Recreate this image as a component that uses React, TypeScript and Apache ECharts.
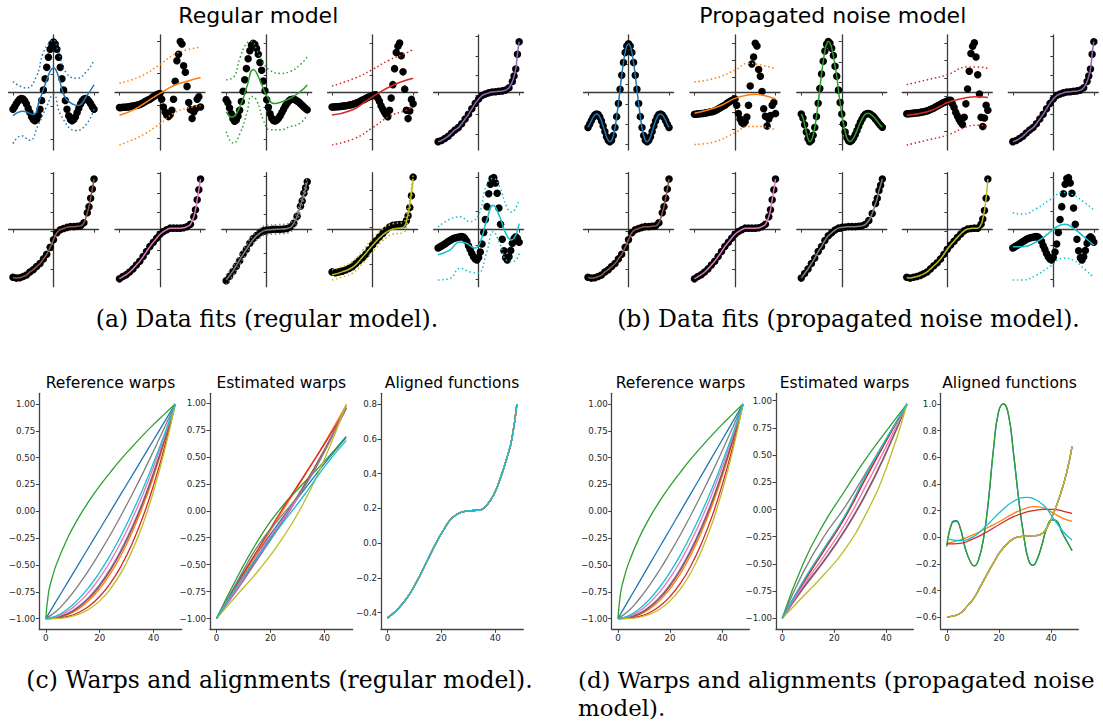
import { useEffect, useRef } from 'react';
import * as echarts from 'echarts';

const TAB10 = ['#1f77b4', '#ff7f0e', '#2ca02c', '#d62728', '#9467bd', '#8c564b', '#e377c2', '#7f7f7f', '#bcbd22', '#17becf'];

// ---------- small multiples: observed data, x in [-1, 1] ----------
const xFine = [-1, -0.958, -0.917, -0.875, -0.833, -0.792, -0.75, -0.708, -0.667, -0.625, -0.583, -0.542, -0.5, -0.458, -0.417, -0.375, -0.333, -0.292, -0.25, -0.208, -0.167, -0.125, -0.083, -0.042, 0, 0.042, 0.083, 0.125, 0.167, 0.208, 0.25, 0.292, 0.333, 0.375, 0.417, 0.458, 0.5, 0.542, 0.583, 0.625, 0.667, 0.708, 0.75, 0.792, 0.833, 0.875, 0.917, 0.958, 1];
const dots1 = [-0.04, 0.0, 0.045, 0.085, 0.115, 0.128, 0.12, 0.09, 0.041, -0.023, -0.091, -0.154, -0.199, -0.217, -0.199, -0.141, -0.041, 0.095, 0.257, 0.434, 0.609, 0.767, 0.891, 0.972, 1.0, 0.972, 0.891, 0.767, 0.609, 0.434, 0.257, 0.095, -0.041, -0.141, -0.199, -0.217, -0.199, -0.154, -0.091, -0.023, 0.041, 0.09, 0.12, 0.128, 0.115, 0.085, 0.045, 0.0, -0.04];
const dots2 = [-0.03, -0.03, -0.025, -0.025, -0.02, -0.02, -0.015, -0.01, -0.005, 0.0, 0.005, 0.01, 0.02, 0.03, 0.045, 0.06, 0.075, 0.09, 0.1, 0.12, 0.14, 0.155, 0.17, 0.18, 0.19, 0.1, -0.02, -0.1, -0.15, -0.17, -0.14, -0.07, 0.1, 0.38, 0.7, 0.8, 1.0, 0.96, 0.62, 0.52, 0.3, 0.05, -0.06, -0.2, -0.1, -0.05, 0.1, 0.14, -0.02];
const dots3 = [0.12, 0.07, -0.01, -0.1, -0.18, -0.217, -0.198, -0.14, -0.045, 0.09, 0.25, 0.43, 0.605, 0.76, 0.885, 0.968, 1.0, 0.98, 0.92, 0.83, 0.7, 0.58, 0.41, 0.26, 0.12, 0.0, -0.1, -0.17, -0.205, -0.215, -0.2, -0.17, -0.13, -0.08, -0.03, 0.02, 0.06, 0.095, 0.117, 0.125, 0.125, 0.116, 0.1, 0.082, 0.057, 0.032, 0.005, -0.02, -0.04];
const dots4 = [0.0, 0.0, 0.005, 0.005, 0.01, 0.01, 0.015, 0.015, 0.02, 0.025, 0.03, 0.035, 0.04, 0.05, 0.06, 0.07, 0.08, 0.095, 0.11, 0.12, 0.135, 0.15, 0.16, 0.17, 0.18, 0.19, 0.19, 0.14, 0.09, 0.02, -0.03, -0.08, -0.12, -0.15, -0.05, 0.14, 0.35, 0.6, 0.85, 0.95, 1.0, 0.8, 0.55, 0.28, -0.05, -0.18, -0.06, 0.12, 0.05];
const dots10 = [-0.04, -0.026, -0.012, 0.005, 0.02, 0.037, 0.055, 0.07, 0.084, 0.1, 0.108, 0.115, 0.12, 0.126, 0.128, 0.121, 0.097, 0.06, -0.005, -0.06, -0.12, -0.17, -0.2, -0.216, -0.18, -0.1, 0.02, 0.19, 0.38, 0.57, 0.76, 0.9, 0.985, 0.997, 0.92, 0.767, 0.55, 0.31, 0.09, -0.08, -0.185, -0.215, -0.17, -0.075, 0.03, 0.1, 0.127, 0.1, 0.045];

const xCubic = [-1, -0.917, -0.833, -0.75, -0.667, -0.583, -0.5, -0.417, -0.333, -0.25, -0.167, -0.083, 0, 0.083, 0.167, 0.25, 0.333, 0.417, 0.5, 0.583, 0.667, 0.75, 0.833, 0.875, 0.917, 0.958, 1];
const dots5 = [-0.6, -0.585, -0.56, -0.53, -0.49, -0.45, -0.42, -0.37, -0.31, -0.25, -0.18, -0.11, -0.055, -0.01, 0.01, 0.025, 0.035, 0.04, 0.045, 0.05, 0.06, 0.09, 0.17, 0.24, 0.33, 0.52, 0.68];
const dots6 = [-0.6, -0.61, -0.605, -0.59, -0.57, -0.53, -0.5, -0.46, -0.42, -0.36, -0.3, -0.21, -0.11, -0.02, 0.02, 0.035, 0.05, 0.06, 0.06, 0.065, 0.07, 0.11, 0.24, 0.32, 0.43, 0.55, 0.68];
const dots7 = [-0.62, -0.59, -0.565, -0.53, -0.49, -0.44, -0.39, -0.33, -0.265, -0.2, -0.145, -0.09, -0.04, -0.005, 0.02, 0.04, 0.04, 0.04, 0.04, 0.045, 0.06, 0.09, 0.19, 0.28, 0.41, 0.54, 0.68];
const dots8 = [-0.61, -0.55, -0.49, -0.42, -0.35, -0.265, -0.2, -0.12, -0.06, -0.02, 0.015, 0.04, 0.05, 0.055, 0.06, 0.06, 0.06, 0.065, 0.07, 0.09, 0.14, 0.23, 0.36, 0.43, 0.53, 0.6, 0.68];
const dots9 = [-0.6, -0.61, -0.6, -0.59, -0.575, -0.555, -0.53, -0.49, -0.45, -0.41, -0.36, -0.3, -0.235, -0.18, -0.13, -0.08, -0.035, 0.005, 0.03, 0.035, 0.04, 0.04, 0.09, 0.16, 0.27, 0.43, 0.68];

// ---------- regular model fits (panel a) ----------
const a1FitX = [-1, -0.75, -0.51, -0.34, -0.22, -0.09, 0, 0.11, 0.24, 0.36, 0.61, 0.81, 1];
const a1FitY = [-0.14, -0.07, -0.12, 0.11, 0.32, 0.54, 0.6, 0.49, 0.21, 0.09, 0.02, 0.16, 0.34];
const a1UpX = [-1, -0.67, -0.42, -0.26, -0.09, 0, 0.11, 0.32, 0.57, 0.81, 1];
const a1UpY = [0.39, 0.29, 0.47, 0.82, 1.0, 1.03, 0.87, 0.52, 0.44, 0.54, 0.72];
const a1LoX = [-1, -0.79, -0.59, -0.38, -0.17, 0, 0.19, 0.57, 0.81, 1];
const a1LoY = [-0.57, -0.45, -0.52, -0.29, 0.0, 0.19, -0.14, -0.37, -0.27, -0.04];

const a2FitX = [-1, -0.67, -0.33, 0, 0.33, 0.67, 1];
const a2FitY = [-0.15, -0.07, 0.06, 0.19, 0.31, 0.38, 0.44];
const a2BandX = [-1, -0.5, 0, 0.33, 0.67, 1];
const a2UpY = [0.35, 0.45, 0.64, 0.79, 0.87, 0.91];
const a2LoY = [-0.61, -0.48, -0.28, -0.12, -0.04, 0.0];

const a3FitX = [-1, -0.86, -0.66, -0.49, -0.33, -0.17, 0, 0.2, 0.35, 0.58, 0.82, 1];
const a3FitY = [-0.07, -0.15, 0.01, 0.32, 0.59, 0.43, 0.18, 0.06, 0.08, 0.14, 0.24, 0.35];
const a3BandX = [-1, -0.82, -0.66, -0.49, -0.37, -0.25, -0.08, 0.08, 0.33, 0.58, 0.82, 1];
const a3UpY = [0.43, 0.47, 0.77, 1.0, 1.03, 0.9, 0.69, 0.58, 0.53, 0.56, 0.66, 0.79];
const a3LoY = [-0.38, -0.56, -0.41, -0.09, 0.17, 0.11, -0.2, -0.35, -0.35, -0.3, -0.25, -0.12];

const a4FitX = [-1, -0.52, -0.19, 0.07, 0.4, 0.73, 1];
const a4FitY = [-0.125, -0.05, 0.08, 0.19, 0.31, 0.4, 0.45];
const a4BandX = [-1, -0.44, -0.02, 0.4, 0.82, 1];
const a4UpY = [0.33, 0.45, 0.58, 0.73, 0.84, 0.9];
const a4LoY = [-0.59, -0.49, -0.33, -0.15, -0.05, 0.0];

const a8BandX = [-1, -0.83, -0.67, -0.5, -0.33, -0.17, 0, 0.25, 0.5, 0.67, 0.83, 1];
const a8FitY = [-0.6, -0.48, -0.34, -0.2, -0.07, 0.01, 0.05, 0.06, 0.07, 0.14, 0.36, 0.68];
const a8UpY = [-0.54, -0.42, -0.28, -0.14, -0.01, 0.07, 0.11, 0.12, 0.13, 0.2, 0.42, 0.74];
const a8LoY = [-0.66, -0.54, -0.4, -0.26, -0.13, -0.05, -0.01, 0.0, 0.01, 0.08, 0.3, 0.62];

const a9BandX = [-1, -0.75, -0.5, -0.25, 0, 0.25, 0.5, 0.75, 0.85, 0.93, 1];
const a9FitY = [-0.64, -0.6, -0.54, -0.4, -0.24, -0.1, -0.02, 0.0, 0.12, 0.36, 0.66];
const a9UpY = [-0.57, -0.53, -0.46, -0.31, -0.15, -0.02, 0.05, 0.07, 0.2, 0.44, 0.72];
const a9LoY = [-0.71, -0.67, -0.62, -0.49, -0.33, -0.18, -0.09, -0.07, 0.05, 0.28, 0.6];

const a10FitX = [-1, -0.71, -0.46, -0.3, -0.09, 0.03, 0.2, 0.36, 0.52, 0.69, 0.81, 1];
const a10FitY = [-0.14, -0.07, 0.05, 0.03, -0.04, 0.03, 0.37, 0.59, 0.42, 0.15, 0.08, 0.32];
const a10UpX = [-1, -0.46, -0.22, 0.0, 0.2, 0.36, 0.52, 0.69, 0.81, 1];
const a10UpY = [0.27, 0.42, 0.35, 0.45, 0.89, 0.985, 0.86, 0.57, 0.49, 0.67];
const a10LoX = [-1, -0.71, -0.46, -0.22, -0.02, 0.2, 0.36, 0.52, 0.69, 0.85, 1];
const a10LoY = [-0.51, -0.49, -0.34, -0.39, -0.41, -0.1, 0.2, 0.03, -0.22, -0.24, -0.12];

// ---------- propagated noise model fits (panel b) ----------
const b2FitX = [-1, -0.67, -0.33, 0, 0.33, 0.5, 0.67, 1];
const b2FitY = [-0.016, 0.03, 0.1, 0.2, 0.25, 0.26, 0.25, 0.19];
const b2BandX = [-1, -0.5, 0, 0.33, 0.67, 1];
const b2UpY = [0.44, 0.49, 0.61, 0.71, 0.68, 0.63];
const b2LoY = [-0.47, -0.43, -0.3, -0.21, -0.21, -0.26];

const b4FitX = [-1, -0.49, -0.16, 0, 0.41, 0.74, 1];
const b4FitY = [-0.02, 0.03, 0.11, 0.16, 0.22, 0.24, 0.23];
const b4BandX = [-1, -0.49, 0, 0.5, 0.74, 1];
const b4UpY = [0.41, 0.48, 0.55, 0.66, 0.66, 0.64];
const b4LoY = [-0.44, -0.37, -0.3, -0.18, -0.16, -0.18];

const b10FitX = [-1, -0.75, -0.42, -0.17, 0.08, 0.29, 0.5, 0.75, 1];
const b10FitY = [-0.02, -0.02, 0.05, 0.15, 0.27, 0.31, 0.25, 0.13, 0.0];
const b10BandX = [-1, -0.75, -0.42, -0.08, 0.25, 0.5, 0.75, 1];
const b10UpY = [0.48, 0.46, 0.54, 0.67, 0.78, 0.74, 0.64, 0.52];
const b10LoY = [-0.51, -0.51, -0.44, -0.31, -0.19, -0.22, -0.34, -0.48];

// axis ranges of the small panels
const aYMin = [-0.67, -0.69, -0.667, -0.67, -0.707, -0.722, -0.722, -0.687, -0.8, -0.61];
const aYMax = [1.11, 1.1, 1.13, 1.125, 0.766, 0.762, 0.762, 0.797, 0.74, 1.07];
const bYMin = [-0.32, -0.55, -0.318, -0.51, -0.707, -0.722, -0.722, -0.722, -0.722, -0.61];
const bYMax = [1.11, 1.12, 1.08, 1.11, 0.766, 0.762, 0.762, 0.762, 0.762, 1.07];

// ---------- warps and alignments ----------
const tRef = [0, 4, 8, 12, 16, 20, 24, 28, 32, 36, 40, 44, 48];
const tRefGreen = [0, 1, 2, 4, 8, 12, 16, 20, 24, 28, 32, 36, 40, 44, 48];
const refBlue = [-1, -0.833, -0.667, -0.5, -0.333, -0.167, 0, 0.167, 0.333, 0.5, 0.667, 0.833, 1];
const refOrange = [-1, -0.993, -0.965, -0.912, -0.831, -0.721, -0.579, -0.405, -0.196, 0.046, 0.327, 0.644, 1];
const refGreen = [-1, -0.762, -0.652, -0.49, -0.254, -0.066, 0.094, 0.236, 0.366, 0.488, 0.6, 0.708, 0.81, 0.906, 1];
const refRed = [-1, -0.997, -0.981, -0.946, -0.885, -0.794, -0.67, -0.507, -0.302, -0.054, 0.246, 0.595, 1];
const refPurple = [-1, -0.989, -0.954, -0.891, -0.801, -0.682, -0.533, -0.355, -0.146, 0.092, 0.365, 0.666, 1];
const refBrown = [-1, -0.99, -0.958, -0.898, -0.812, -0.695, -0.549, -0.372, -0.163, 0.077, 0.353, 0.659, 1];
const refPink = [-1, -0.982, -0.934, -0.856, -0.752, -0.621, -0.464, -0.282, -0.074, 0.157, 0.415, 0.696, 1];
const refGray = [-1, -0.93, -0.822, -0.692, -0.547, -0.386, -0.216, -0.034, 0.157, 0.356, 0.564, 0.779, 1];
const refOlive = [-1, -0.998, -0.988, -0.961, -0.913, -0.835, -0.722, -0.57, -0.369, -0.12, 0.19, 0.561, 1];
const refCyan = [-1, -0.974, -0.913, -0.823, -0.708, -0.567, -0.405, -0.221, -0.016, 0.208, 0.454, 0.718, 1];

const tEst = [0, 8, 16, 24, 32, 40, 48];
const estC = [
  [-1, -0.66, -0.36, -0.08, 0.18, 0.44, 0.68],
  [-1, -0.68, -0.35, -0.02, 0.3, 0.63, 0.98],
  [-1, -0.6, -0.25, 0.03, 0.25, 0.46, 0.69],
  [-1, -0.66, -0.33, 0.0, 0.31, 0.62, 0.95],
  [-1, -0.72, -0.42, -0.12, 0.2, 0.56, 0.97],
  [-1, -0.7, -0.4, -0.1, 0.22, 0.57, 0.95],
  [-1, -0.7, -0.38, -0.1, 0.2, 0.55, 0.97],
  [-1, -0.64, -0.3, -0.05, 0.2, 0.55, 0.95],
  [-1, -0.77, -0.54, -0.27, 0.06, 0.48, 0.99],
  [-1, -0.68, -0.4, -0.13, 0.13, 0.41, 0.65],
];
const estD = [
  [-1, -0.67, -0.37, -0.07, 0.29, 0.64, 0.97],
  [-1, -0.67, -0.37, -0.07, 0.29, 0.64, 0.97],
  [-1, -0.5, -0.13, 0.17, 0.46, 0.72, 0.97],
  [-1, -0.68, -0.38, -0.08, 0.28, 0.63, 0.97],
  [-1, -0.73, -0.48, -0.2, 0.13, 0.52, 0.97],
  [-1, -0.72, -0.47, -0.19, 0.14, 0.53, 0.97],
  [-1, -0.7, -0.43, -0.14, 0.21, 0.58, 0.97],
  [-1, -0.58, -0.25, 0.02, 0.33, 0.65, 0.97],
  [-1, -0.8, -0.6, -0.37, -0.05, 0.38, 0.97],
  [-1, -0.66, -0.36, -0.06, 0.31, 0.65, 0.97],
];

const tAlignC = [0, 3.5, 7.2, 10.9, 14.6, 18.3, 20.8, 23.3, 25.8, 28.2, 31.9, 34.4, 36.9, 39.4, 41.9, 44.3, 46.2, 48];
const alignC = [-0.43, -0.385, -0.317, -0.22, -0.106, 0.009, 0.076, 0.134, 0.166, 0.182, 0.188, 0.191, 0.22, 0.278, 0.374, 0.489, 0.604, 0.8];

const tSinc = [0, 1.9, 3.5, 5.1, 7.0, 8.9, 10.5, 12.1, 14.1, 16.0, 17.9, 19.8, 21.7, 23.6, 25.6, 27.5, 29.4, 31.3, 33.0, 34.5, 36.4, 38.3, 40.3, 42.2, 44.1, 46.0, 48];
const alignDGreen = [-0.07, 0.105, 0.12, 0.07, -0.08, -0.18, -0.215, -0.17, 0.0, 0.29, 0.67, 0.94, 1.0, 0.92, 0.62, 0.29, 0.02, -0.17, -0.21, -0.17, -0.06, 0.07, 0.13, 0.12, 0.04, -0.03, -0.1];
const alignDBlue = [-0.06, 0.11, 0.125, 0.07, -0.08, -0.18, -0.215, -0.17, 0.0, 0.29, 0.67, 0.94, 1.0, 0.92, 0.62, 0.29, 0.02, -0.17, -0.21, -0.17, -0.06, 0.07, 0.13, 0.12, 0.04, -0.03, -0.1];
const tSmooth = [0, 5.1, 10.2, 15.3, 20.4, 25.6, 30.7, 33.2, 37.1, 40.9, 44.7, 48];
const alignDCyan = [-0.01, -0.025, 0.005, 0.09, 0.19, 0.27, 0.3, 0.29, 0.24, 0.14, 0.04, -0.02];
const alignDOrange = [-0.045, -0.02, 0.02, 0.07, 0.12, 0.18, 0.22, 0.23, 0.22, 0.18, 0.14, 0.12];
const alignDRed = [-0.05, -0.045, -0.01, 0.04, 0.1, 0.155, 0.19, 0.2, 0.21, 0.21, 0.195, 0.18];
const tCubic = [0, 2.5, 5.1, 7.6, 10.2, 12.8, 15.3, 17.9, 20.4, 23, 25.6, 28.1, 30.7, 33.2, 35.8, 38.3, 40.9, 43.5, 46, 48];
const alignDCubic = [-0.6, -0.59, -0.57, -0.52, -0.46, -0.37, -0.28, -0.19, -0.11, -0.05, -0.01, 0.005, 0.01, 0.012, 0.02, 0.07, 0.18, 0.32, 0.49, 0.68];

const zip = (xs: number[], ys: number[]) => xs.map((x, i) => [x, ys[i]]);

export default function App() {
  const ref = useRef<HTMLDivElement>(null);
  useEffect(() => {
    if (!ref.current) return;
    const chart = echarts.init(ref.current, undefined, { renderer: 'svg' });
    const AX = '#3a3a3a';
    const grids: any[] = [];
    const xAxes: any[] = [];
    const yAxes: any[] = [];
    const series: any[] = [];

    const sinc = [-0.5, 0, 0.5, 1];
    const sincFine = [-0.25, 0, 0.25, 0.5, 0.75, 1];
    const cub = [-0.5, -0.25, 0, 0.25, 0.5, 0.75];

    const addSmall = (left: number, top: number, h: number, yMin: number, yMax: number, ticks: number[], parts: any) => {
      const gi = grids.length;
      grids.push({ left, top, width: 90, height: h, containLabel: false, outerBoundsMode: 'none' });
      xAxes.push({
        type: 'value', gridIndex: gi, min: -1.11, max: 1.11, position: 'bottom', offset: -h / 2,
        axisLine: { onZero: false, lineStyle: { color: AX, width: 1.3 } },
        axisTick: { show: true, length: 3, customValues: [-1, 1], lineStyle: { color: AX, width: 1 } },
        axisLabel: { show: false }, splitLine: { show: false },
      });
      yAxes.push({
        type: 'value', gridIndex: gi, min: yMin, max: yMax, position: 'left', offset: -45,
        axisLine: { onZero: false, lineStyle: { color: AX, width: 1.3 } },
        axisTick: { show: true, length: 3, customValues: ticks, lineStyle: { color: AX, width: 1 } },
        axisLabel: { show: false }, splitLine: { show: false },
      });
      series.push({
        type: 'scatter', xAxisIndex: gi, yAxisIndex: gi, data: parts.dots, symbolSize: 7.5,
        itemStyle: { color: '#000', opacity: 1 }, z: 2, silent: true,
      });
      const line = (data: number[][], dotted: boolean) => ({
        type: 'line', xAxisIndex: gi, yAxisIndex: gi, data, showSymbol: false, symbol: 'none', smooth: true,
        lineStyle: { color: parts.color, width: 1.5, type: dotted ? [1.5, 2.6] : 'solid' }, z: 3, silent: true,
      });
      series.push(line(parts.fit, false));
      if (parts.up) series.push(line(parts.up, true));
      if (parts.lo) series.push(line(parts.lo, true));
    };

    const aLeft = [8.5, 115, 221.7, 327.6, 433.6];
    const bLeft = [583.5, 690, 796.8, 902.3, 1008.3];
    const rowTop = [35, 172.7];
    const rowH = [115, 114];

    const d1 = zip(xFine, dots1), d2 = zip(xFine, dots2), d3 = zip(xFine, dots3), d4 = zip(xFine, dots4), d10 = zip(xFine, dots10);
    const d5 = zip(xCubic, dots5), d6 = zip(xCubic, dots6), d7 = zip(xCubic, dots7), d8 = zip(xCubic, dots8), d9 = zip(xCubic, dots9);

    const aParts = [
      { dots: d1, color: TAB10[0], fit: zip(a1FitX, a1FitY), up: zip(a1UpX, a1UpY), lo: zip(a1LoX, a1LoY), ticks: sinc },
      { dots: d2, color: TAB10[1], fit: zip(a2FitX, a2FitY), up: zip(a2BandX, a2UpY), lo: zip(a2BandX, a2LoY), ticks: sinc },
      { dots: d3, color: TAB10[2], fit: zip(a3FitX, a3FitY), up: zip(a3BandX, a3UpY), lo: zip(a3BandX, a3LoY), ticks: sinc },
      { dots: d4, color: TAB10[3], fit: zip(a4FitX, a4FitY), up: zip(a4BandX, a4UpY), lo: zip(a4BandX, a4LoY), ticks: sinc },
      { dots: d5, color: TAB10[4], fit: d5, ticks: cub },
      { dots: d6, color: TAB10[5], fit: d6, ticks: cub },
      { dots: d7, color: TAB10[6], fit: d7, ticks: cub },
      { dots: d8, color: TAB10[7], fit: zip(a8BandX, a8FitY), up: zip(a8BandX, a8UpY), lo: zip(a8BandX, a8LoY), ticks: cub },
      { dots: d9, color: TAB10[8], fit: zip(a9BandX, a9FitY), up: zip(a9BandX, a9UpY), lo: zip(a9BandX, a9LoY), ticks: cub },
      { dots: d10, color: TAB10[9], fit: zip(a10FitX, a10FitY), up: zip(a10UpX, a10UpY), lo: zip(a10LoX, a10LoY), ticks: sinc },
    ];
    const bParts = [
      { dots: d1, color: TAB10[0], fit: d1, ticks: sincFine },
      { dots: d2, color: TAB10[1], fit: zip(b2FitX, b2FitY), up: zip(b2BandX, b2UpY), lo: zip(b2BandX, b2LoY), ticks: sincFine },
      { dots: d3, color: TAB10[2], fit: d3, ticks: sincFine },
      { dots: d4, color: TAB10[3], fit: zip(b4FitX, b4FitY), up: zip(b4BandX, b4UpY), lo: zip(b4BandX, b4LoY), ticks: sincFine },
      { dots: d5, color: TAB10[4], fit: d5, ticks: cub },
      { dots: d6, color: TAB10[5], fit: d6, ticks: cub },
      { dots: d7, color: TAB10[6], fit: d7, ticks: cub },
      { dots: d8, color: TAB10[7], fit: d8, ticks: cub },
      { dots: d9, color: TAB10[8], fit: d9, ticks: cub },
      { dots: d10, color: TAB10[9], fit: zip(b10FitX, b10FitY), up: zip(b10BandX, b10UpY), lo: zip(b10BandX, b10LoY), ticks: sinc },
    ];
    for (let i = 0; i < 10; i++) {
      const r = i < 5 ? 0 : 1;
      const c = i % 5;
      addSmall(aLeft[c], rowTop[r], rowH[r], aYMin[i], aYMax[i], aParts[i].ticks, aParts[i]);
    }
    for (let i = 0; i < 10; i++) {
      const r = i < 5 ? 0 : 1;
      const c = i % 5;
      addSmall(bLeft[c], rowTop[r], rowH[r], bYMin[i], bYMax[i], bParts[i].ticks, bParts[i]);
    }

    // --- warp panels ---
    const fmt = (d: number) => (v: number) => (v < 0 ? '\u2212' : '') + Math.abs(v).toFixed(d);
    const addBig = (left: number, width: number, yMin: number, yMax: number, yTicks: number[], dec: number, lines: { data: number[][]; color: string }[]) => {
      const gi = grids.length;
      grids.push({ left, top: 393.3, width, height: 236, containLabel: false, outerBoundsMode: 'none' });
      const axisCommon = {
        axisLine: { onZero: false, lineStyle: { color: '#444', width: 1.3 } },
        splitLine: { show: false },
      };
      xAxes.push({
        type: 'value', gridIndex: gi, min: -2.4, max: 50.4, position: 'bottom', ...axisCommon,
        axisTick: { length: 3.5, customValues: [0, 20, 40], lineStyle: { color: '#444' } },
        axisLabel: { customValues: [0, 20, 40], fontSize: 8.7, color: '#262626', fontFamily: 'DejaVu Sans', margin: 4 },
      });
      yAxes.push({
        type: 'value', gridIndex: gi, min: yMin, max: yMax, position: 'left', ...axisCommon,
        axisTick: { length: 3.5, customValues: yTicks, lineStyle: { color: '#444' } },
        axisLabel: { customValues: yTicks, formatter: fmt(dec), fontSize: 8.7, color: '#262626', fontFamily: 'DejaVu Sans', margin: 4 },
      });
      lines.forEach((l) => {
        series.push({
          type: 'line', xAxisIndex: gi, yAxisIndex: gi, data: l.data, showSymbol: false, symbol: 'none', smooth: true,
          lineStyle: { color: l.color, width: 1.3 }, silent: true,
        });
      });
    };
    const warpTicks = [-1, -0.75, -0.5, -0.25, 0, 0.25, 0.5, 0.75, 1];
    const refLines = [
      zip(tRef, refBlue), zip(tRef, refOrange), zip(tRefGreen, refGreen), zip(tRef, refRed), zip(tRef, refPurple),
      zip(tRef, refBrown), zip(tRef, refPink), zip(tRef, refGray), zip(tRef, refOlive), zip(tRef, refCyan),
    ].map((data, i) => ({ data, color: TAB10[i] }));
    addBig(39.3, 142.4, -1.1, 1.1, warpTicks, 2, refLines);
    addBig(210, 142.7, -1.0995, 1.0895, warpTicks, 2, estC.map((ys, i) => ({ data: zip(tEst, ys), color: TAB10[i] })));
    addBig(381, 142.3, -0.496, 0.863, [-0.4, -0.2, 0, 0.2, 0.4, 0.6, 0.8], 1, TAB10.map((c) => ({ data: zip(tAlignC, alignC), color: c })));
    addBig(611.7, 137.6, -1.1, 1.1, warpTicks, 2, refLines);
    addBig(776, 137.3, -1.101, 1.068, warpTicks, 2, estD.map((ys, i) => ({ data: zip(tEst, ys), color: TAB10[i] })));
    const dAligned = [
      zip(tSinc, alignDBlue), zip(tSmooth, alignDOrange), zip(tSinc, alignDGreen), zip(tSmooth, alignDRed),
      zip(tCubic, alignDCubic), zip(tCubic, alignDCubic), zip(tCubic, alignDCubic), zip(tCubic, alignDCubic),
      zip(tCubic, alignDCubic), zip(tSmooth, alignDCyan),
    ].map((data, i) => ({ data, color: TAB10[i] }));
    addBig(940.7, 137.6, -0.69, 1.08, [-0.6, -0.4, -0.2, 0, 0.2, 0.4, 0.6, 0.8, 1.0], 1, dAligned);

    const txt = (text: string, x: number, y: number, size: number, family: string, align: string = 'center') => ({
      type: 'text', x, y, silent: true,
      style: { text, fill: '#000', fontSize: size, fontFamily: family, align, verticalAlign: 'middle', textAlign: align, textVerticalAlign: 'middle' },
    });
    const SANS = 'DejaVu Sans';
    const SERIF = 'DejaVu Serif';
    const graphic = [
      txt('Regular model', 258.3, 15.3, 22, SANS),
      txt('Propagated noise model', 832.8, 15.3, 22, SANS),
      txt('Reference warps', 110.5, 382.5, 15.5, SANS),
      txt('Estimated warps', 281.3, 382.5, 15.5, SANS),
      txt('Aligned functions', 452.1, 382.5, 15.5, SANS),
      txt('Reference warps', 680.5, 382.5, 15.5, SANS),
      txt('Estimated warps', 844.6, 382.5, 15.5, SANS),
      txt('Aligned functions', 1009.5, 382.5, 15.5, SANS),
      txt('(a) Data fits (regular model).', 267, 319, 23.5, SERIF),
      txt('(b) Data fits (propagated noise model).', 848.5, 319, 23.5, SERIF),
      txt('(c) Warps and alignments (regular model).', 279.5, 680, 23.5, SERIF),
      txt('(d) Warps and alignments (propagated noise', 578, 680, 22.9, SERIF, 'left'),
      txt('model).', 578, 708, 22.9, SERIF, 'left'),
    ];

    chart.setOption({
      animation: false,
      backgroundColor: '#ffffff',
      grid: grids,
      xAxis: xAxes,
      yAxis: yAxes,
      series,
      graphic,
    });
    return () => chart.dispose();
  }, []);
  return <div ref={ref} style={{ position: 'absolute', left: 0, top: 0, width: 1103, height: 722, background: '#fff' }} />;
}
